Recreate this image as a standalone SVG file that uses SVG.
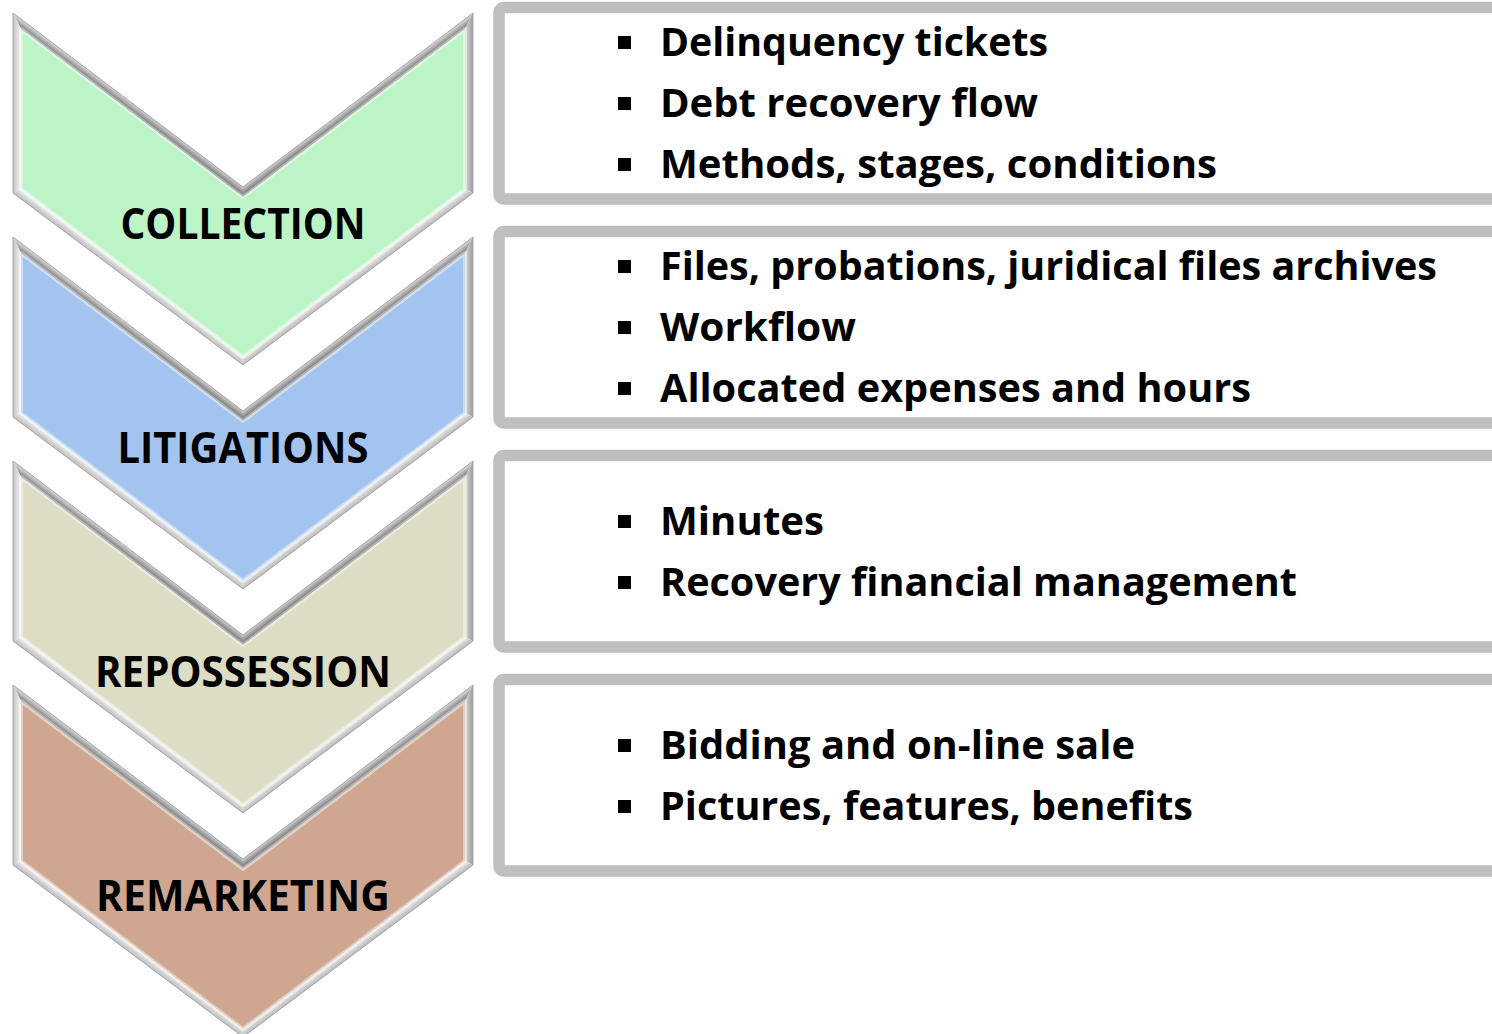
<svg xmlns="http://www.w3.org/2000/svg" xmlns:xlink="http://www.w3.org/1999/xlink" width="1492" height="1034" viewBox="0 0 1492 1034">
<style>
.lbl{font-family:"Open Sans","Liberation Sans",sans-serif;font-weight:bold;font-size:43px;fill:#000;text-anchor:middle}
.item{font-family:"Open Sans","Liberation Sans",sans-serif;font-weight:bold;font-size:39px;fill:#000}
.box{fill:#fff;stroke:#BFBFBF;stroke-width:11.5}
.bul{fill:#000}
.green{fill:#BDF4C6}
.blue{fill:#A3C4EF}
.beige{fill:#DDDCC4}
.tan{fill:#CFA790}
.glow{stroke:#fff;stroke-opacity:0.45;stroke-width:4;stroke-linejoin:round}
</style>
<defs>
<linearGradient id="gTL" gradientUnits="userSpaceOnUse" x1="128" y1="100" x2="123.2" y2="106.4">
<stop offset="0" stop-color="#D4D4D4"/><stop offset="1" stop-color="#6C6C6C"/></linearGradient>
<linearGradient id="gTR" gradientUnits="userSpaceOnUse" x1="358" y1="100" x2="362.8" y2="106.4">
<stop offset="0" stop-color="#D4D4D4"/><stop offset="1" stop-color="#6C6C6C"/></linearGradient>
<linearGradient id="gBR" gradientUnits="userSpaceOnUse" x1="358" y1="279" x2="353.2" y2="272.6">
<stop offset="0" stop-color="#B8B8B8"/><stop offset="1" stop-color="#F4F4F4"/></linearGradient>
<linearGradient id="gBL" gradientUnits="userSpaceOnUse" x1="128" y1="279" x2="132.8" y2="272.6">
<stop offset="0" stop-color="#BDBDBD"/><stop offset="1" stop-color="#F6F6F6"/></linearGradient>
<linearGradient id="gR" gradientUnits="userSpaceOnUse" x1="473" y1="0" x2="465" y2="0">
<stop offset="0" stop-color="#9C9C9C"/><stop offset="1" stop-color="#D8D8D8"/></linearGradient>
<linearGradient id="gL" gradientUnits="userSpaceOnUse" x1="13" y1="0" x2="21" y2="0">
<stop offset="0" stop-color="#C4C4C4"/><stop offset="1" stop-color="#F4F4F4"/></linearGradient>
<g id="bevel">
<polygon points="13,13 243,187 243,197 21,29.1" fill="url(#gTL)"/>
<polygon points="243,187 473,13 465,29.1 243,197" fill="url(#gTR)"/>
<polygon points="473,13 473,193 465,189 465,29.1" fill="url(#gR)"/>
<polygon points="473,193 243,365 243,357 465,189" fill="url(#gBR)"/>
<polygon points="243,365 13,193 21,189 243,357" fill="url(#gBL)"/>
<polygon points="13,193 13,13 21,29.1 21,189" fill="url(#gL)"/>
<polygon points="13,13 243,187 473,13 473,193 243,365 13,193" fill="none" stroke="#A5A5A5" stroke-width="1"/>
</g>
<polygon id="inner" points="21,29.1 243,197 465,29.1 465,189 243,357 21,189"/>
</defs>
<rect width="1492" height="1034" fill="#fff"/>
<g id="connectors"></g>
<g id="collection">
<use xlink:href="#bevel" href="#bevel"/>
<use xlink:href="#inner" href="#inner" class="green glow"/>
<text class="lbl" x="243" y="239" textLength="245" lengthAdjust="spacingAndGlyphs">COLLECTION</text>
</g>
<g id="litigations" transform="translate(0,224)">
<use xlink:href="#bevel" href="#bevel"/>
<use xlink:href="#inner" href="#inner" class="blue glow"/>
<text class="lbl" x="243" y="239" textLength="251" lengthAdjust="spacingAndGlyphs">LITIGATIONS</text>
</g>
<g id="repossession" transform="translate(0,448)">
<use xlink:href="#bevel" href="#bevel"/>
<use xlink:href="#inner" href="#inner" class="beige glow"/>
<text class="lbl" x="243" y="239" textLength="296" lengthAdjust="spacingAndGlyphs">REPOSSESSION</text>
</g>
<g id="remarketing" transform="translate(0,672)">
<use xlink:href="#bevel" href="#bevel"/>
<use xlink:href="#inner" href="#inner" class="tan glow"/>
<text class="lbl" x="243" y="239" textLength="294" lengthAdjust="spacingAndGlyphs">REMARKETING</text>
</g>
<g id="box-collection">
<rect class="box" x="499" y="7.5" width="1100" height="191.5" rx="5"/>
<rect class="bul" x="618" y="36" width="13" height="13"/>
<text class="item" x="660" y="56" textLength="388" lengthAdjust="spacingAndGlyphs">Delinquency tickets</text>
<rect class="bul" x="618" y="97" width="13" height="13"/>
<text class="item" x="660" y="117" textLength="378" lengthAdjust="spacingAndGlyphs">Debt recovery flow</text>
<rect class="bul" x="618" y="158" width="13" height="13"/>
<text class="item" x="660" y="178" textLength="557" lengthAdjust="spacingAndGlyphs">Methods, stages, conditions</text>
</g>
<g id="box-litigations">
<rect class="box" x="499" y="231.5" width="1100" height="191.5" rx="5"/>
<rect class="bul" x="618" y="260" width="13" height="13"/>
<text class="item" x="660" y="280" textLength="777" lengthAdjust="spacingAndGlyphs">Files, probations, juridical files archives</text>
<rect class="bul" x="618" y="321" width="13" height="13"/>
<text class="item" x="660" y="341" textLength="196" lengthAdjust="spacingAndGlyphs">Workflow</text>
<rect class="bul" x="618" y="382" width="13" height="13"/>
<text class="item" x="660" y="402" textLength="591" lengthAdjust="spacingAndGlyphs">Allocated expenses and hours</text>
</g>
<g id="box-repossession">
<rect class="box" x="499" y="455.5" width="1100" height="191.5" rx="5"/>
<rect class="bul" x="618" y="515" width="13" height="13"/>
<text class="item" x="660" y="535" textLength="164" lengthAdjust="spacingAndGlyphs">Minutes</text>
<rect class="bul" x="618" y="576" width="13" height="13"/>
<text class="item" x="660" y="596" textLength="637" lengthAdjust="spacingAndGlyphs">Recovery financial management</text>
</g>
<g id="box-remarketing">
<rect class="box" x="499" y="679.5" width="1100" height="191.5" rx="5"/>
<rect class="bul" x="618" y="739" width="13" height="13"/>
<text class="item" x="660" y="759" textLength="475" lengthAdjust="spacingAndGlyphs">Bidding and on-line sale</text>
<rect class="bul" x="618" y="800" width="13" height="13"/>
<text class="item" x="660" y="820" textLength="533" lengthAdjust="spacingAndGlyphs">Pictures, features, benefits</text>
</g>
</svg>
